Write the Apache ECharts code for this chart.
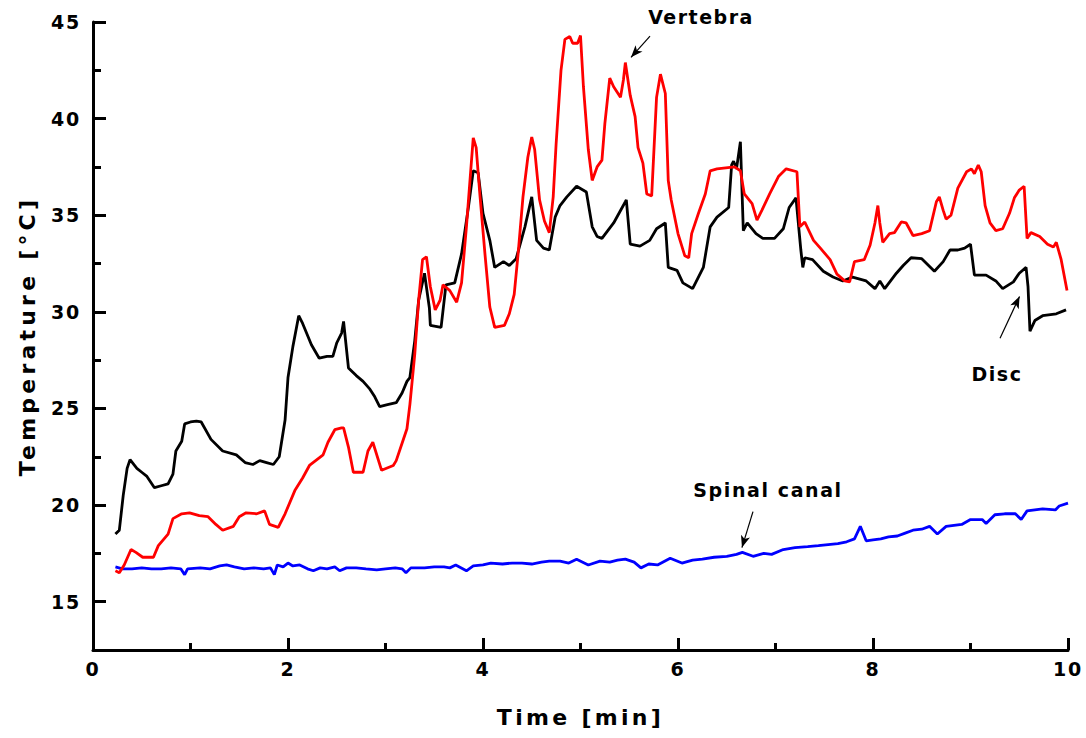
<!DOCTYPE html>
<html>
<head>
<meta charset="utf-8">
<script src="https://cdn.jsdelivr.net/npm/echarts@6/dist/echarts.min.js"></script>
<style>
html,body{margin:0;padding:0;background:#fff;}
#chart{width:1086px;height:738px;}
</style>
</head>
<body>
<div id="chart"></div>
<script>
// ---- Data (time in minutes, temperature in °C) ----
var discTime = [0.23,0.27,0.31,0.35,0.38,0.45,0.50,0.55,0.63,0.70,0.77,0.82,0.85,0.91,0.94,1.00,1.06,1.11,1.21,1.33,1.47,1.56,1.64,1.71,1.78,1.85,1.91,1.97,2.00,2.05,2.11,2.15,2.24,2.32,2.40,2.46,2.50,2.55,2.57,2.62,2.70,2.77,2.84,2.89,2.94,3.02,3.11,3.17,3.22,3.25,3.30,3.34,3.40,3.45,3.46,3.57,3.62,3.71,3.78,3.85,3.90,3.95,4.00,4.07,4.12,4.21,4.27,4.34,4.43,4.50,4.55,4.62,4.68,4.74,4.79,4.86,4.96,5.06,5.12,5.17,5.22,5.34,5.46,5.47,5.51,5.61,5.71,5.78,5.87,5.90,5.99,6.05,6.15,6.26,6.33,6.40,6.52,6.55,6.57,6.60,6.64,6.67,6.71,6.80,6.87,6.99,7.08,7.14,7.21,7.26,7.28,7.30,7.38,7.49,7.59,7.69,7.79,7.93,8.02,8.07,8.12,8.24,8.31,8.39,8.50,8.63,8.72,8.79,8.87,8.94,9.00,9.04,9.16,9.26,9.33,9.44,9.50,9.57,9.59,9.61,9.66,9.74,9.88,9.98];
var discTemp = [18.5,18.7,20.5,21.9,22.35,21.9,21.7,21.5,20.9,21.0,21.1,21.6,22.8,23.3,24.2,24.3,24.35,24.3,23.4,22.8,22.6,22.2,22.1,22.3,22.2,22.1,22.5,24.4,26.6,28.2,29.8,29.4,28.3,27.6,27.7,27.7,28.4,28.9,29.5,27.1,26.7,26.4,26.0,25.6,25.1,25.2,25.3,25.8,26.4,26.6,28.5,30.6,32.0,30.2,29.3,29.2,31.4,31.5,33.0,35.4,37.3,37.2,35.1,33.7,32.3,32.6,32.4,32.75,34.4,35.95,33.7,33.3,33.2,34.9,35.5,35.95,36.5,36.2,34.4,33.9,33.8,34.6,35.7,35.8,33.5,33.4,33.7,34.3,34.6,32.3,32.15,31.5,31.2,32.3,34.4,34.9,35.4,37.6,37.8,37.4,38.8,34.2,34.6,34.05,33.8,33.8,34.3,35.4,35.9,33.2,32.3,32.8,32.7,32.1,31.8,31.6,31.8,31.6,31.2,31.6,31.2,32.0,32.4,32.8,32.75,32.1,32.6,33.2,33.2,33.3,33.5,31.9,31.9,31.6,31.2,31.55,32.0,32.3,31.3,29.0,29.55,29.8,29.9,30.1];

var vertTime = [0.23,0.27,0.32,0.39,0.44,0.51,0.62,0.67,0.77,0.82,0.91,0.99,1.09,1.18,1.26,1.33,1.44,1.50,1.57,1.68,1.76,1.81,1.90,1.97,2.07,2.15,2.22,2.36,2.41,2.48,2.55,2.57,2.62,2.67,2.77,2.82,2.87,2.96,3.08,3.11,3.17,3.22,3.25,3.30,3.34,3.38,3.42,3.46,3.51,3.56,3.59,3.66,3.73,3.78,3.83,3.88,3.90,3.93,3.97,4.02,4.07,4.12,4.22,4.27,4.32,4.36,4.41,4.46,4.50,4.53,4.58,4.63,4.68,4.72,4.75,4.80,4.84,4.89,4.92,4.97,5.00,5.03,5.08,5.12,5.17,5.22,5.25,5.30,5.34,5.41,5.44,5.46,5.51,5.56,5.59,5.64,5.68,5.73,5.78,5.82,5.87,5.90,5.93,6.00,6.07,6.11,6.14,6.21,6.28,6.33,6.40,6.58,6.64,6.68,6.76,6.81,6.86,6.94,7.03,7.11,7.22,7.25,7.30,7.39,7.46,7.56,7.63,7.71,7.76,7.81,7.91,7.97,8.02,8.05,8.07,8.10,8.17,8.22,8.29,8.34,8.41,8.50,8.58,8.65,8.68,8.72,8.75,8.80,8.87,8.96,9.01,9.04,9.08,9.11,9.15,9.20,9.26,9.33,9.40,9.45,9.50,9.55,9.58,9.62,9.71,9.79,9.85,9.88,9.93,9.99];
var vertTemp = [16.6,16.5,16.9,17.7,17.55,17.3,17.3,17.9,18.5,19.3,19.55,19.6,19.45,19.4,19.0,18.7,18.9,19.4,19.6,19.55,19.7,19.0,18.85,19.55,20.75,21.4,22.05,22.6,23.25,23.9,24.0,24.0,23.0,21.7,21.7,22.8,23.25,21.8,22.05,22.3,23.2,23.95,25.2,27.8,30.6,32.7,32.85,31.3,30.1,30.6,31.4,31.1,30.5,31.5,34.4,37.7,39.0,38.5,35.95,33.0,30.25,29.2,29.3,29.9,30.9,33.0,35.95,38.0,39.05,38.4,35.8,34.7,34.1,35.95,38.7,42.5,44.1,44.25,43.9,43.9,44.3,41.65,38.4,36.8,37.5,37.85,39.75,42.1,41.65,41.1,42.0,42.9,41.2,40.1,38.5,37.7,36.1,36.0,41.1,42.3,41.3,36.8,35.8,34.05,32.9,32.8,34.05,35.1,36.1,37.3,37.4,37.5,37.3,36.1,35.6,34.75,35.25,36.1,37.0,37.4,37.25,34.4,34.65,33.7,33.3,32.7,31.95,31.6,31.55,32.6,32.7,33.45,34.6,35.5,34.6,33.6,34.05,34.1,34.65,34.6,33.95,34.05,34.2,35.7,35.95,35.25,34.8,35.0,36.4,37.25,37.4,37.15,37.6,37.25,35.5,34.6,34.2,34.3,35.1,35.9,36.3,36.5,33.8,34.1,33.9,33.5,33.35,33.6,32.7,31.1];

var canalTime = [0.23,0.30,0.40,0.50,0.60,0.70,0.80,0.90,0.94,0.97,1.10,1.20,1.30,1.37,1.45,1.55,1.65,1.75,1.82,1.86,1.89,1.95,2.00,2.05,2.12,2.20,2.26,2.33,2.40,2.48,2.53,2.60,2.70,2.80,2.91,3.00,3.10,3.17,3.21,3.26,3.40,3.50,3.60,3.66,3.72,3.83,3.90,4.00,4.08,4.20,4.30,4.40,4.50,4.60,4.68,4.79,4.88,4.96,5.08,5.20,5.30,5.38,5.46,5.55,5.62,5.70,5.79,5.92,6.04,6.15,6.25,6.37,6.50,6.60,6.66,6.77,6.88,6.96,7.08,7.20,7.33,7.44,7.54,7.64,7.73,7.81,7.87,7.93,8.00,8.08,8.16,8.25,8.33,8.41,8.50,8.58,8.66,8.75,8.83,8.91,9.00,9.12,9.16,9.25,9.35,9.46,9.52,9.58,9.66,9.74,9.87,9.91,10.0];
var canalTemp = [16.8,16.7,16.7,16.75,16.7,16.7,16.75,16.7,16.4,16.7,16.75,16.7,16.85,16.9,16.8,16.7,16.75,16.7,16.75,16.4,16.9,16.8,17.0,16.85,16.9,16.7,16.6,16.75,16.7,16.8,16.6,16.75,16.75,16.7,16.65,16.7,16.75,16.7,16.5,16.75,16.75,16.8,16.8,16.75,16.9,16.6,16.85,16.9,17.0,16.95,17.0,17.0,16.95,17.05,17.1,17.1,17.0,17.2,16.9,17.1,17.05,17.15,17.2,17.05,16.75,16.95,16.9,17.25,17.0,17.15,17.2,17.3,17.35,17.45,17.55,17.35,17.5,17.45,17.7,17.8,17.85,17.9,17.95,18.0,18.1,18.25,18.9,18.15,18.2,18.25,18.35,18.4,18.55,18.7,18.75,18.9,18.5,18.9,18.95,19.0,19.25,19.25,19.05,19.5,19.55,19.55,19.25,19.7,19.75,19.8,19.75,19.95,20.1];

var yMajorTicks = [15,20,25,30,35,40,45];
var yMinorTicks = [17.5,22.5,27.5,32.5,37.5,42.5];

function pairs(t, v) { return t.map(function (x, i) { return [x, v[i]]; }); }

var FONT = '"DejaVu Sans", "Liberation Sans", sans-serif';
var chart = echarts.init(document.getElementById('chart'), null, { renderer: 'svg' });

var arrowLine = { color: '#000', width: 1.2, type: 'solid' };

chart.setOption({
  animation: false,
  backgroundColor: '#fff',
  grid: { left: 93, right: 18, top: 22, bottom: 88 },
  xAxis: {
    type: 'value', min: 0, max: 10, interval: 2,
    name: 'Time [min]', nameLocation: 'middle', nameGap: 56,
    nameTextStyle: { fontFamily: FONT, fontWeight: 'bold', fontSize: 22, color: '#000' },
    axisLine: { show: true, lineStyle: { color: '#000', width: 3 } },
    axisTick: { show: true, inside: true, length: 12, lineStyle: { color: '#000', width: 3 } },
    minorTick: { show: true, splitNumber: 2, length: 7, lineStyle: { color: '#000', width: 3 } },
    axisLabel: { fontFamily: FONT, fontWeight: 'bold', fontSize: 19, color: '#000', margin: 9 },
    splitLine: { show: false }
  },
  yAxis: [{
    type: 'value', min: 12.5, max: 45,
    name: 'Temperature [°C]', nameLocation: 'middle', nameGap: 55,
    nameTextStyle: { fontFamily: FONT, fontWeight: 'bold', fontSize: 22, color: '#000' },
    axisLine: { show: true, lineStyle: { color: '#000', width: 3 } },
    axisTick: { show: true, inside: true, length: 13, customValues: yMajorTicks, lineStyle: { color: '#000', width: 3 } },
    axisLabel: { customValues: yMajorTicks, fontFamily: FONT, fontWeight: 'bold', fontSize: 19, color: '#000', margin: 12 },
    splitLine: { show: false }
  }, {
    type: 'value', min: 12.5, max: 45, position: 'left',
    axisLine: { show: false },
    axisTick: { show: true, inside: true, length: 8, customValues: yMinorTicks, lineStyle: { color: '#000', width: 3 } },
    axisLabel: { show: false, customValues: yMinorTicks },
    splitLine: { show: false }
  }],
  series: [{
    name: 'Spinal canal', type: 'line', data: pairs(canalTime, canalTemp),
    showSymbol: false, symbol: 'none', lineStyle: { color: '#0000ff', width: 2.8 }, z: 2,
    markLine: {
      silent: true, symbol: ['none', 'arrow'], symbolSize: [7, 12], label: { show: false },
      lineStyle: arrowLine,
      data: [[{ coord: [6.769, 19.66] }, { coord: [6.656, 17.80] }]]
    }
  }, {
    name: 'Disc', type: 'line', data: pairs(discTime, discTemp),
    showSymbol: false, symbol: 'none', lineStyle: { color: '#000000', width: 2.8 }, z: 3,
    markLine: {
      silent: true, symbol: ['none', 'arrow'], symbolSize: [7, 12], label: { show: false },
      lineStyle: arrowLine,
      data: [[{ coord: [9.303, 28.63] }, { coord: [9.503, 30.80] }]]
    }
  }, {
    name: 'Vertebra', type: 'line', data: pairs(vertTime, vertTemp),
    showSymbol: false, symbol: 'none', lineStyle: { color: '#ff0000', width: 2.8 }, z: 4,
    markLine: {
      silent: true, symbol: ['none', 'arrow'], symbolSize: [7, 12], label: { show: false },
      lineStyle: arrowLine,
      data: [[{ coord: [5.713, 44.27] }, { coord: [5.518, 43.17] }]]
    }
  }],
  graphic: [
    { type: 'text', x: 701, y: 17, style: { text: 'Vertebra', font: 'bold 19px ' + FONT, fill: '#000', textAlign: 'center', textVerticalAlign: 'middle' } },
    { type: 'text', x: 997, y: 374, style: { text: 'Disc', font: 'bold 19px ' + FONT, fill: '#000', textAlign: 'center', textVerticalAlign: 'middle' } },
    { type: 'text', x: 768, y: 490, style: { text: 'Spinal canal', font: 'bold 19px ' + FONT, fill: '#000', textAlign: 'center', textVerticalAlign: 'middle' } }
  ]
});

// letter spacing, as in the original figure's lettering
var spacing = { 'Temperature [°C]': 4.2, 'Time [min]': 3.3, 'Vertebra': 1.5, 'Disc': 1.6, 'Spinal canal': 1.6 };
function applySpacing() {
  var texts = document.querySelectorAll('#chart svg text');
  for (var i = 0; i < texts.length; i++) {
    var s = texts[i].textContent;
    var sp = spacing.hasOwnProperty(s) ? spacing[s] : (/^\d+$/.test(s) ? 1.8 : 0);
    texts[i].style.letterSpacing = sp + 'px';
  }
}
applySpacing();
chart.on('finished', applySpacing);
setTimeout(applySpacing, 0);
setTimeout(applySpacing, 200);
</script>
</body>
</html>
